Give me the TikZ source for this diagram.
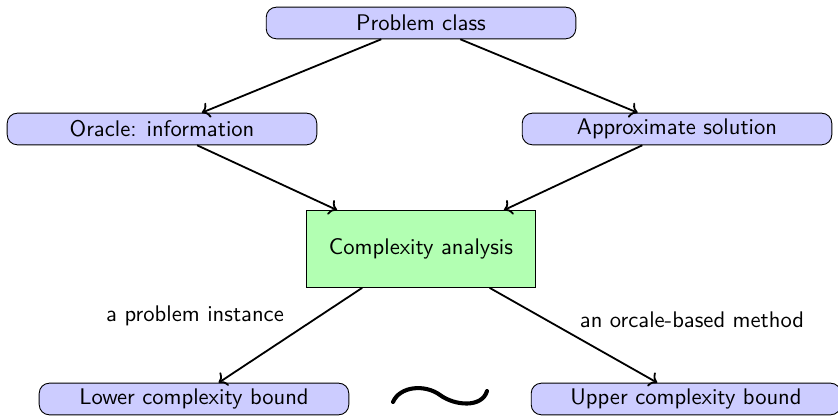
\documentclass[tikz,border=0pt]{standalone}
\usepackage{amsmath,amssymb}
\usepackage{xcolor}
\usepackage{tikz}
\usetikzlibrary{calc,arrows.meta}

\tikzset{
  roundbox/.style={draw,rounded corners=4.5pt,fill=blue!20,minimum width=137pt,minimum height=14pt,inner sep=2pt,font=\sffamily},
  analysisbox/.style={draw,fill=green!30,minimum width=101pt,minimum height=34pt,font=\sffamily},
  edgetext/.style={font=\sffamily},
  flow/.style={->,thick}
}

\begin{document}
\begin{tikzpicture}[x=0.4425pt,y=-0.4425pt]
\useasboundingbox (0,0) rectangle (838,416);
\node[roundbox] (problem) at (421,23) {Problem class};
\node[roundbox] (oracle) at (162,129) {Oracle: information};
\node[roundbox] (approx) at (677,129) {Approximate solution};
\node[analysisbox] (analysis) at (421,249) {Complexity analysis};
\node[roundbox] (lower) at (194,399) {Lower complexity bound};
\node[roundbox] (upper) at (686,399) {Upper complexity bound};
\node[edgetext] (instance) at (195,316) {a problem instance};
\node[edgetext] (method) at (692,320) {an orcale-based method};
\foreach \a/\b in {problem/oracle,problem/approx,oracle/analysis,approx/analysis,analysis/lower,analysis/upper}{
  \draw[flow] (\a) -- (\b);}
% tilde between the two bounds
\draw[line width=1.8pt,line cap=round] (393,402) .. controls (400,386) and (425,384) .. (440,395) .. controls (455,406) and (482,408) .. (487,391);
\end{tikzpicture}
\end{document}
